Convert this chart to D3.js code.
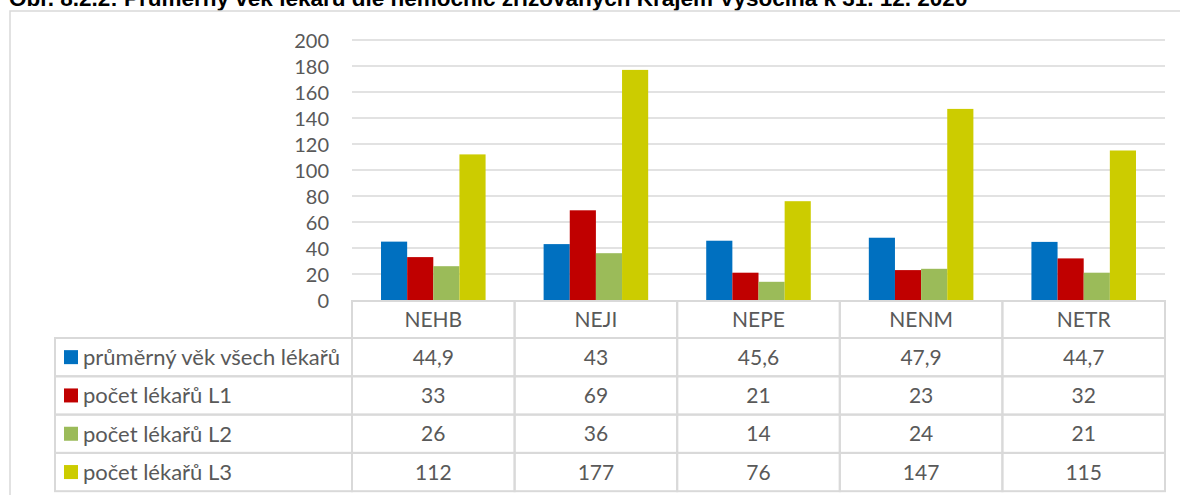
<!DOCTYPE html>
<html>
<head>
<meta charset="utf-8">
<script src="https://cdn.jsdelivr.net/npm/d3@7"></script>
<style>
  html, body { margin: 0; padding: 0; background: #fff; }
  svg { display: block; }
</style>
</head>
<body>
<svg id="chart" width="1180" height="495"></svg>
<script>
// Hospitals (columns of the data table)
const categories = ["NEHB", "NEJI", "NEPE", "NENM", "NETR"];

// Series shown as bars and as rows of the data table
const seriesNames = [
  "průměrný věk všech lékařů",
  "počet lékařů L1",
  "počet lékařů L2",
  "počet lékařů L3"
];
const avgAge = [44.9, 43, 45.6, 47.9, 44.7];
const doctorsL1 = [33, 69, 21, 23, 32];
const doctorsL2 = [26, 36, 14, 24, 21];
const doctorsL3 = [112, 177, 76, 147, 115];
const seriesColors = ["#0070C0", "#C00000", "#9BBB59", "#CCCC00"];

const yTicks = [0, 20, 40, 60, 80, 100, 120, 140, 160, 180, 200];

const titleText = "Obr. 8.2.2: Průměrný věk lékařů dle nemocnic zřizovaných Krajem Vysočina k 31. 12. 2020";

const seriesValues = [avgAge, doctorsL1, doctorsL2, doctorsL3];
const fmt = v => String(v).replace(".", ",");

const svg = d3.select("#chart");
const textColor = "#595959";
const lineColor = "#d9d9d9";
const font = "Lato, 'Open Sans', sans-serif";

// Title (bold, sits above the chart frame)
svg.append("text")
  .attr("x", 9).attr("y", 6)
  .attr("font-family", "'Liberation Sans', Arial, sans-serif")
  .attr("font-weight", "bold")
  .attr("font-size", 22.5)
  .attr("fill", "#000")
  .text(titleText);

// Chart frame
svg.append("rect")
  .attr("x", 10).attr("y", 11)
  .attr("width", 1200).attr("height", 520)
  .attr("fill", "none")
  .attr("stroke", lineColor)
  .attr("stroke-width", 1.5);

// Scales
const plotLeft = 352, plotRight = 1165;
const x0 = d3.scaleBand().domain(categories).range([plotLeft, plotRight]).padding(0);
const x1 = d3.scaleBand().domain(seriesNames).range([0, x0.bandwidth()])
  .paddingInner(0).paddingOuter(1.11);
const y = d3.scaleLinear().domain([0, 200]).range([300, 40]);

// Horizontal gridlines
svg.append("g")
  .selectAll("line")
  .data(yTicks.filter(t => t > 0))
  .join("line")
  .attr("x1", plotLeft).attr("x2", plotRight)
  .attr("y1", d => y(d)).attr("y2", d => y(d))
  .attr("stroke", lineColor)
  .attr("stroke-width", 1.5);

// Y axis labels
const yAxis = d3.axisLeft(y).tickValues(yTicks).tickSize(0).tickPadding(0);
const yg = svg.append("g")
  .attr("transform", "translate(329,0)")
  .call(yAxis);
yg.select(".domain").remove();
yg.selectAll("text")
  .attr("font-family", font)
  .attr("font-size", 20)
  .attr("fill", textColor)
  .attr("dy", "0.36em");

// Bars
const groups = svg.append("g")
  .selectAll("g")
  .data(categories)
  .join("g")
  .attr("transform", d => `translate(${x0(d)},0)`);

groups.selectAll("rect")
  .data((c, i) => seriesNames.map((s, k) => ({ s, k, v: seriesValues[k][i] })))
  .join("rect")
  .attr("x", d => x1(d.s))
  .attr("width", x1.bandwidth())
  .attr("y", d => y(d.v))
  .attr("height", d => y(0) - y(d.v))
  .attr("fill", d => seriesColors[d.k]);

// Data table below the plot
const tableTop = 301;
const headerH = 37;
const rowH = 38.3;
const legendLeft = 55;
const table = svg.append("g");

// Header cells with category names
categories.forEach(c => {
  table.append("rect")
    .attr("x", x0(c)).attr("y", tableTop)
    .attr("width", x0.bandwidth()).attr("height", headerH)
    .attr("fill", "none").attr("stroke", lineColor).attr("stroke-width", 2);
  table.append("text")
    .attr("x", x0(c) + x0.bandwidth() / 2)
    .attr("y", tableTop + headerH / 2)
    .attr("dy", "0.36em")
    .attr("text-anchor", "middle")
    .attr("font-family", font).attr("font-size", 21)
    .attr("fill", textColor)
    .text(c);
});

// Series rows: legend key + values
seriesNames.forEach((s, k) => {
  const ry = tableTop + headerH + k * rowH;
  table.append("rect")
    .attr("x", legendLeft).attr("y", ry)
    .attr("width", plotLeft - legendLeft).attr("height", rowH)
    .attr("fill", "none").attr("stroke", lineColor).attr("stroke-width", 2);
  table.append("rect")
    .attr("x", 64).attr("y", ry + rowH / 2 - 7)
    .attr("width", 14).attr("height", 14)
    .attr("fill", seriesColors[k]);
  table.append("text")
    .attr("x", 83).attr("y", ry + rowH / 2)
    .attr("dy", "0.36em")
    .attr("font-family", font).attr("font-size", 22)
    .attr("fill", textColor)
    .text(s);
  categories.forEach((c, i) => {
    table.append("rect")
      .attr("x", x0(c)).attr("y", ry)
      .attr("width", x0.bandwidth()).attr("height", rowH)
      .attr("fill", "none").attr("stroke", lineColor).attr("stroke-width", 2);
    table.append("text")
      .attr("x", x0(c) + x0.bandwidth() / 2)
      .attr("y", ry + rowH / 2)
      .attr("dy", "0.36em")
      .attr("text-anchor", "middle")
      .attr("font-family", font).attr("font-size", 21)
      .attr("fill", textColor)
      .text(fmt(seriesValues[k][i]));
  });
});
</script>
</body>
</html>
